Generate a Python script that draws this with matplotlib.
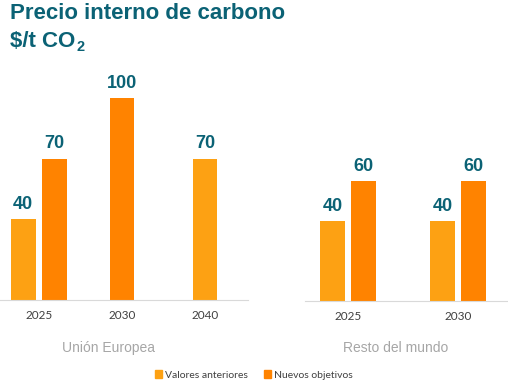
import matplotlib.pyplot as plt

# datos
ue_years = ["2025", "2030", "2040"]
ue_anteriores = [40, None, 70]
ue_nuevos = [70, 100, None]
rm_years = ["2025", "2030"]
rm_anteriores = [40, 40]
rm_nuevos = [60, 60]
grupos = ["Unión Europea", "Resto del mundo"]
series = ["Valores anteriores", "Nuevos objetivos"]

c_ant = "#FDA113"
c_nue = "#FF8300"
teal = "#0B6275"

W, H = 508, 385
fig = plt.figure(figsize=(W / 100, H / 100), dpi=100)


def px_axes(x0, x1, ytop, ybot):
    return fig.add_axes([x0 / W, 1 - ybot / H, (x1 - x0) / W, (ybot - ytop) / H])


def panel(ax, years, ant, nue, width, off):
    for i, (a, n) in enumerate(zip(ant, nue)):
        vals = [(a, c_ant), (n, c_nue)]
        vals = [v for v in vals if v[0] is not None]
        if len(vals) == 2:
            xs = [i - off, i + off]
        else:
            xs = [i]
        for x, (v, c) in zip(xs, vals):
            ax.bar(x, v, width=width, color=c, zorder=2)
            ax.annotate(str(v), (x, v), xytext=(0, 4.5), textcoords="offset points",
                        ha="center", va="bottom", fontsize=13, fontweight="bold",
                        color=teal, family="Liberation Sans")
    ax.set_xticks(range(len(years)))
    ax.set_xticklabels(years, fontsize=8.5, color="#404040", family="Lato")
    ax.tick_params(axis="x", length=0, pad=7)
    ax.set_yticks([])
    for s in ["top", "right", "left"]:
        ax.spines[s].set_visible(False)
    ax.spines["bottom"].set_color("#D9D9D9")
    ax.set_ylim(0, 220 / 2.02)


ax1 = px_axes(0, 248, 80, 300)
panel(ax1, ue_years, ue_anteriores, ue_nuevos, 0.30, 0.19)
ax1.set_xlim(-39 / 83, (248 - 39) / 83)

ax2 = px_axes(305, 508, 80, 301)
panel(ax2, rm_years, rm_anteriores, rm_nuevos, 0.227, 0.141)
ax2.set_xlim(-43 / 110, 160 / 110)
ax2.set_ylim(0, 221 / 2.0)

fig.text(108 / W, 1 - 348 / H, grupos[0], ha="center", va="center",
         fontsize=10, color="#A6A6A6", family="Liberation Sans")
fig.text(396 / W, 1 - 348 / H, grupos[1], ha="center", va="center",
         fontsize=10, color="#A6A6A6", family="Liberation Sans")

# titulo
fig.text(10 / W, 1 - 19 / H, "Precio interno de carbono", ha="left", va="baseline",
         fontsize=16, fontweight="bold", color=teal, family="Liberation Sans")
t2 = fig.text(10 / W, 1 - 47 / H, "$/t CO", ha="left", va="baseline",
              fontsize=16, fontweight="bold", color=teal, family="Liberation Sans")
fig.canvas.draw()
bb = t2.get_window_extent()
fig.text(bb.x1 / W + 1 / W, 1 - 51 / H, "2", ha="left", va="baseline",
         fontsize=10.5, fontweight="bold", color=teal, family="Liberation Sans")

# leyenda
handles = [plt.Rectangle((0, 0), 1, 1, color=c) for c in (c_ant, c_nue)]
fig.legend(handles, series, loc="center", bbox_to_anchor=(254 / W, 1 - 375 / H),
           ncol=2, frameon=False, handlelength=0.7, handleheight=0.7,
           handletextpad=0.3, columnspacing=1.5,
           prop={"family": "Lato", "size": 7.5}, labelcolor="#404040")

fig.savefig("out.png", dpi=100)
